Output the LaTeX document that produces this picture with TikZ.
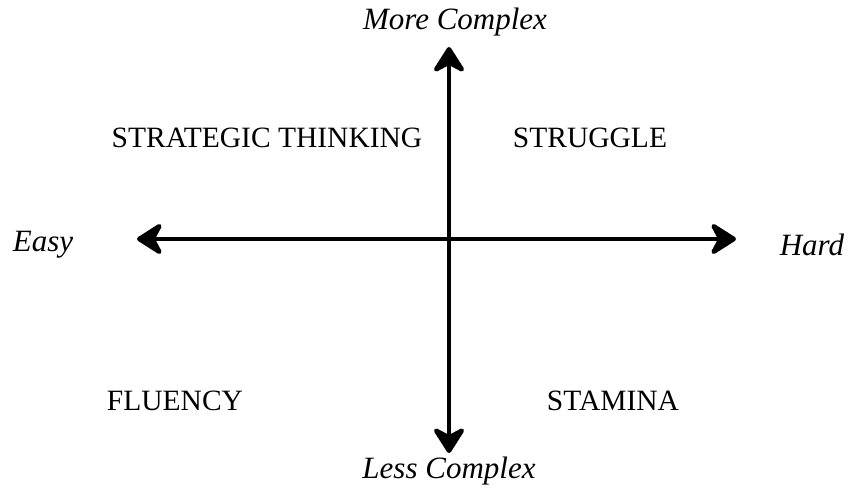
\documentclass[tikz,border=0pt]{standalone}
\usepackage{fontspec}
\setmainfont{Liberation Serif}
\usetikzlibrary{arrows.meta}
\begin{document}
\begin{tikzpicture}[x=1pt,y=-1pt,
  tip/.tip={Stealth[length=30pt,width=38pt,inset=10pt,round]},
  axis/.style={line width=4.5pt,tip-tip},
  quad/.style={font=\fontsize{29.5}{32}\selectfont, inner sep=0pt},
  lbl/.style={font=\fontsize{31}{33}\selectfont\itshape, inner sep=0pt}]
\useasboundingbox (0,0) rectangle (849,489);
\coordinate (top) at (449,47);
\coordinate (bot) at (449,453);
\coordinate (lft) at (137,239);
\coordinate (rgt) at (736,239);
\draw[axis] (bot) -- (top);
\draw[axis] (lft) -- (rgt);
\node[lbl] (more) at (455,22) {More Complex};
\node[lbl] (less) at (449,471) {Less Complex};
\node[lbl] (easy) at (43,245) {Easy};
\node[lbl] (hard) at (812,245) {Hard};
\node[quad] (st) at (267,138) {STRATEGIC THINKING};
\node[quad] (sg) at (590,138) {STRUGGLE};
\node[quad] (fl) at (175,401) {FLUENCY};
\node[quad] (sm) at (613,401) {STAMINA};
\end{tikzpicture}
\end{document}
